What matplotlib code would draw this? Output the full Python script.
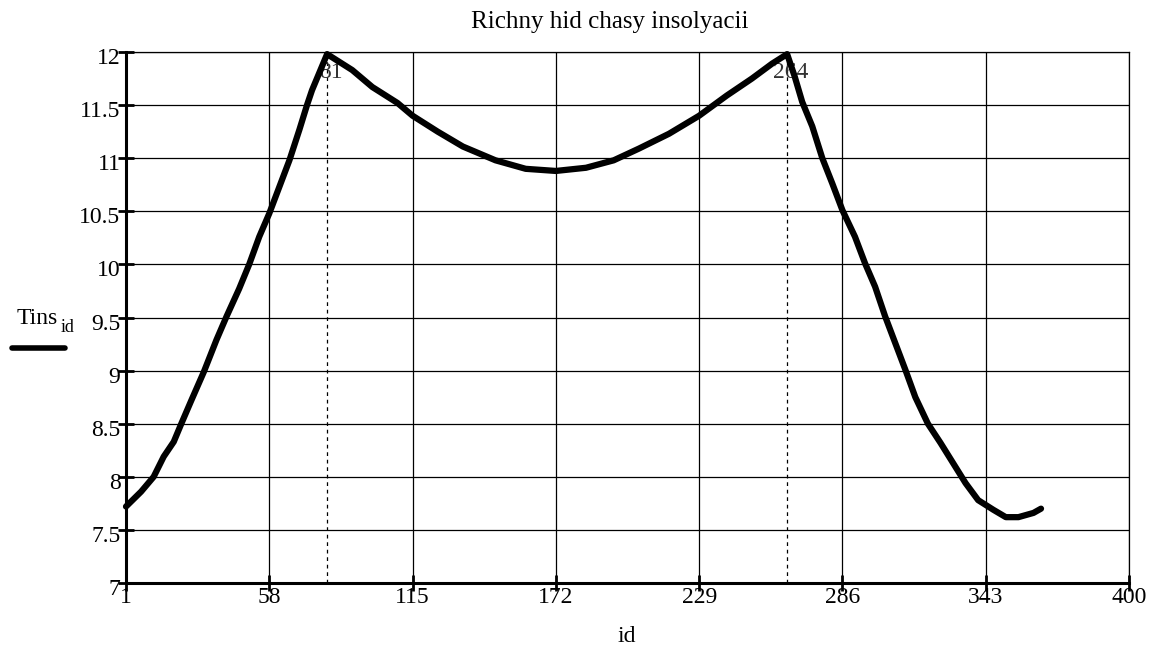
import matplotlib
matplotlib.use('Agg')
import matplotlib.pyplot as plt
import matplotlib.transforms as mtransforms
from matplotlib.lines import Line2D

# ---- data ----
days = [1, 7, 12, 16, 20, 23, 27, 32, 37, 41, 46, 50, 54, 58, 62, 66, 70, 73, 75, 78, 81,
        91, 99, 109, 115, 125, 135, 148, 160, 172, 184, 195, 205, 217, 229, 240, 250, 258,
        264, 267, 270, 274, 278, 282, 286, 291, 295, 299, 303, 307, 311, 315, 320, 325, 330,
        335, 340, 346, 351, 356, 362, 365]
tins = [7.72, 7.86, 8.00, 8.19, 8.33, 8.50, 8.72, 8.99, 9.29, 9.51, 9.77, 10.0, 10.26, 10.48,
        10.73, 10.98, 11.27, 11.50, 11.64, 11.81, 11.98,
        11.83, 11.67, 11.52, 11.4, 11.25, 11.11, 10.98, 10.90, 10.88, 10.91, 10.98, 11.09,
        11.23, 11.40, 11.59, 11.75, 11.89,
        11.98, 11.77, 11.53, 11.30, 11.00, 10.76, 10.51, 10.26, 10.01, 9.79, 9.51, 9.26, 9.01,
        8.75, 8.50, 8.32, 8.13, 7.94, 7.78, 7.69, 7.62, 7.62, 7.66, 7.70]
x_ticks = [1, 58, 115, 172, 229, 286, 343, 400]
y_ticks = [7, 7.5, 8, 8.5, 9, 9.5, 10, 10.5, 11, 11.5, 12]
marker_days = [81, 264]

plt.rcParams['font.family'] = ['Liberation Serif', 'DejaVu Serif']

fig = plt.figure(figsize=(11.54, 6.59), dpi=100)
ax = fig.add_axes([126 / 1154, 1 - 583 / 659, (1129 - 126) / 1154, (583 - 52) / 659])

ax.set_xlim(1, 400)
ax.set_ylim(7, 12)
ax.set_xticks(x_ticks)
ax.set_yticks(y_ticks)
ax.set_xticklabels([str(v) for v in x_ticks])
ax.set_yticklabels([f"{v:g}" for v in y_ticks])

ax.grid(True, color='black', linewidth=0.9)
ax.set_axisbelow(True)

for s in ['left', 'bottom']:
    ax.spines[s].set_linewidth(2.2)
for s in ['top', 'right']:
    ax.spines[s].set_linewidth(0.9)

ax.tick_params(axis='both', direction='inout', length=12, width=2, labelsize=17, colors='black')
ax.tick_params(axis='y', pad=-2)
ax.tick_params(axis='x', pad=-3)

# y 標籤略往下移 (跟原圖一樣)
shift = mtransforms.ScaledTranslation(0, -4 / 100, fig.dpi_scale_trans)
for lab in ax.get_yticklabels():
    lab.set_transform(lab.get_transform() + shift)

# dashed markers at the two peaks
for d in marker_days:
    ax.axvline(d, color='black', linestyle=(0, (3, 3)), linewidth=0.9)
    ax.text(d + 1.5, 11.81, str(d), ha='center', va='center', fontsize=17, color='#333333')

ax.plot(days, tins, color='black', linewidth=4.5, solid_capstyle='round',
        solid_joinstyle='round', clip_on=False, zorder=5)

# title / labels
fig.text(610 / 1154, 1 - 22 / 659, 'Richny hid chasy insolyacii', ha='center', va='center', fontsize=18)
fig.text(627 / 1154, 1 - 636 / 659, 'id', ha='center', va='center', fontsize=17)
fig.text(17 / 1154, 1 - 318 / 659, 'Tins', ha='left', va='center', fontsize=17)
fig.text(61 / 1154, 1 - 328 / 659, 'id', ha='left', va='center', fontsize=13)
fig.add_artist(Line2D([12 / 1154, 65 / 1154], [1 - 348 / 659, 1 - 348 / 659],
                      color='black', linewidth=4, solid_capstyle='round'))

fig.savefig('out.png', dpi=100)
